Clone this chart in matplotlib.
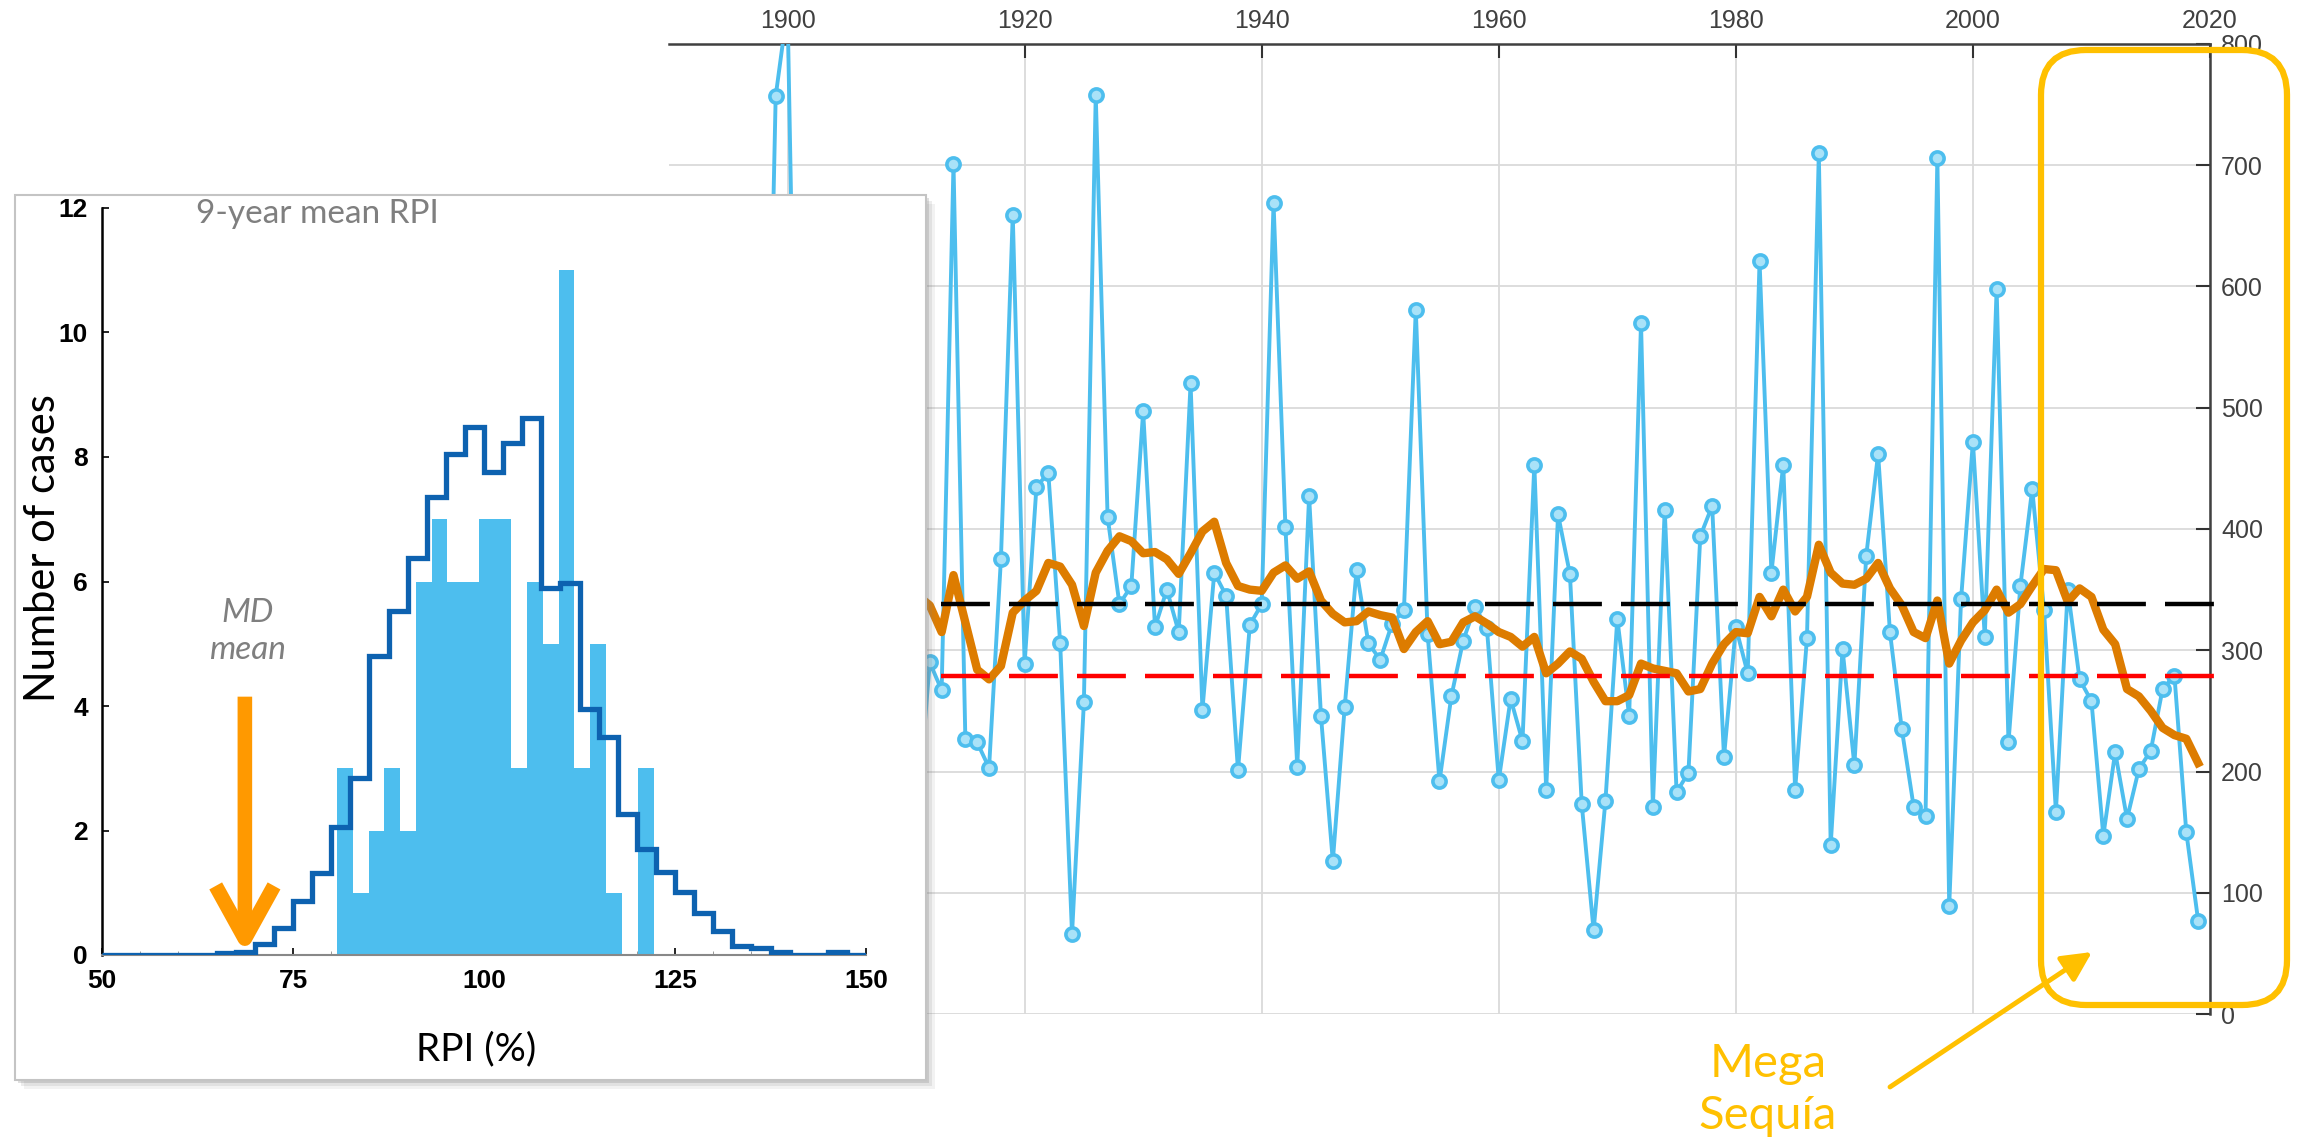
import numpy as np
import matplotlib.pyplot as plt
from matplotlib.patches import Rectangle, FancyBboxPatch

# -----------------------------
# Datos
# -----------------------------
nan = np.nan
years = list(range(1898, 2020))
rain = [300, 757, 830, 300,
        nan, nan, nan, nan, nan, nan, nan, nan, nan,            # 1902-1910 ocultos
        170, 290, 267, 701, 227, 224, 203, 375, 659,            # 1911-1919
        289, 435, 446, 306, 66, 257, 758, 410, 338, 353,        # 1920s
        497, 319, 350, 315, 520, 251, 364, 345, 201, 321,       # 1930s
        338, 669, 402, 204, 427, 246, 126, 253, 366, 306,       # 1940s
        292, 322, 333, 581, 313, 192, 262, 308, 336, 318,       # 1950s
        193, 260, 225, 453, 185, 412, 363, 173, 69, 176,        # 1960s
        326, 246, 570, 171, 416, 183, 199, 394, 419, 212,       # 1970s
        319, 281, 621, 364, 453, 185, 310, 710, 139, 301,       # 1980s
        205, 378, 462, 315, 235, 171, 163, 706, 89, 342,        # 1990s
        472, 311, 598, 224, 353, 433, 333, 167, 350, 276,       # 2000s
        258, 147, 216, 161, 202, 217, 268, 279, 150, 77]        # 2010s

mean_years = list(range(1911, 2020))
mean_rain = [345, 337, 315, 362, 323, 284, 276, 287, 331,
             341, 349, 372, 369, 354, 320, 364, 382, 394, 390,
             380, 381, 375, 363, 380, 398, 406, 372, 353, 350,
             349, 364, 370, 359, 365, 341, 330, 323, 324, 332,
             329, 327, 301, 315, 324, 305, 307, 323, 328, 322,
             315, 311, 303, 311, 281, 289, 299, 293, 274, 258,
             258, 263, 289, 285, 283, 281, 266, 268, 289, 305,
             315, 314, 344, 328, 350, 332, 344, 387, 364, 355,
             354, 359, 372, 351, 337, 315, 310, 341, 289, 308,
             323, 333, 350, 331, 338, 353, 367, 366, 340, 351,
             344, 317, 305, 268, 262, 250, 236, 230, 227, 207]

long_term_mean = 338
reference_level = 279

# Histograma (inserto)
obs_edges = [80.7, 82.8, 84.9, 86.9, 89.0, 91.1, 93.2, 95.2, 97.3, 99.4, 101.5,
             103.5, 105.6, 107.7, 109.8, 111.8, 113.9, 116.0, 118.1, 120.2, 122.2]
obs_counts = [3, 1, 2, 3, 2, 6, 7, 6, 6, 7, 7, 3, 6, 5, 11, 3, 5, 1, 0, 3]

sim_edges = list(np.arange(50, 150.1, 2.5))
sim_counts = [0, 0, 0, 0, 0, 0,
              0.04, 0.05, 0.17, 0.43, 0.87, 1.31, 2.05, 2.84, 4.8, 5.52,
              6.37, 7.35, 8.05, 8.48, 7.76, 8.22, 8.63, 5.9, 5.97, 3.95,
              3.5, 2.27, 1.71, 1.33, 1.02, 0.68, 0.39, 0.14, 0.12, 0.05,
              0, 0, 0.05, 0]
md_mean = 68.7

year_ticks = [1900, 1920, 1940, 1960, 1980, 2000, 2020]
rain_ticks = [0, 100, 200, 300, 400, 500, 600, 700, 800]

# Colores
BLUE = '#4DBEEE'
BLUE_FILL = '#A9E2F8'
ORANGE = '#DD7C00'
YELLOW = '#FFC000'
DARK_BLUE = '#0D62B0'

W, H = 2300, 1147
fig = plt.figure(figsize=(W / 100, H / 100), dpi=100, facecolor='white')

# ============ Serie principal ============
ax = fig.add_axes([669 / W, 1 - 1014 / H, (2210 - 669) / W, (1014 - 44) / H])
ax.set_xlim(1890, 2020)
ax.set_ylim(0, 800)

ax.plot(years, rain, color=BLUE, lw=2.8, marker='o', ms=9.5, mfc=BLUE_FILL,
        mec=BLUE, mew=2.6, zorder=3)
ax.plot(mean_years, mean_rain, color=ORANGE, lw=6, zorder=4,
        solid_joinstyle='round')

ax.plot([1890, 2020.6], [long_term_mean] * 2, color='black', lw=3.2,
        dashes=(11, 4.3), clip_on=False, zorder=5)
ax.plot([1890, 2021.0], [reference_level] * 2, color='#FF0000', lw=3.2,
        dashes=(11, 4.3), clip_on=False, zorder=5)

ax.xaxis.tick_top()
ax.yaxis.tick_right()
ax.set_xticks(year_ticks)
ax.set_yticks(rain_ticks)
ax.grid(True, color='#DADADA', lw=1.3)
ax.set_axisbelow(True)
for s in ['left', 'bottom']:
    ax.spines[s].set_visible(False)
for s in ['top', 'right']:
    ax.spines[s].set_color('#404040')
    ax.spines[s].set_linewidth(1.8)
ax.tick_params(axis='both', direction='in', length=10, width=1.5,
               color='#333333', labelcolor='#404040', labelsize=18)
ax.tick_params(axis='x', pad=8)
ax.tick_params(axis='y', pad=8)
for lab in ax.get_xticklabels() + ax.get_yticklabels():
    lab.set_family('Liberation Sans')

# ============ Recuadro del inserto ============
inch = fig.dpi_scale_trans
bx, by, bw, bh = 0.15, (H - 1080) / 100, 9.11, 8.85
for off, a in [(0.09, 0.10), (0.06, 0.15), (0.03, 0.25)]:
    fig.patches.append(Rectangle((bx + off, by - off), bw, bh, transform=inch,
                                 facecolor='#808080', alpha=a,
                                 edgecolor='none', zorder=5))
fig.patches.append(Rectangle((bx, by), bw, bh, transform=inch,
                             facecolor='white', edgecolor='#C4C4C4',
                             lw=1.5, zorder=6))

# ============ Histograma ============
axh = fig.add_axes([102 / W, 1 - 955 / H, (866 - 102) / W, (955 - 208) / H])
axh.set_zorder(10)
axh.patch.set_alpha(0)
axh.stairs(obs_counts, obs_edges, fill=True, color=BLUE, zorder=2)
axh.stairs(sim_counts, sim_edges, color=DARK_BLUE, lw=3.8, zorder=3)
axh.set_xlim(50, 150)
axh.set_ylim(0, 12)
axh.set_xticks([50, 75, 100, 125, 150])
axh.set_xticks(np.arange(50, 151, 5), minor=True)
axh.set_yticks(range(0, 13, 2))
axh.spines['top'].set_visible(False)
axh.spines['right'].set_visible(False)
axh.spines['left'].set_linewidth(1.8)
axh.spines['bottom'].set_color('#888888')
axh.spines['bottom'].set_linewidth(1.5)
axh.tick_params(axis='both', direction='in', length=5, width=1.2,
                labelsize=19, pad=10)
axh.tick_params(axis='x', which='minor', direction='in', length=3,
                color='#888888')
for lab in axh.get_xticklabels() + axh.get_yticklabels():
    lab.set_fontweight('bold')
    lab.set_family('Liberation Sans')
axh.set_xlabel('RPI (%)', fontsize=28, family='Lato')
axh.xaxis.set_label_coords(0.49, -0.102)
axh.set_ylabel('Number of cases', fontsize=30, family='Lato')
axh.yaxis.set_label_coords(-0.053, 0.545)

axh.annotate('', xy=(md_mean, 0.02), xytext=(md_mean, 4.15),
             arrowprops=dict(arrowstyle='->,head_length=1.9,head_width=1.05',
                             lw=10.5, color='#FF9900', shrinkA=0, shrinkB=0,
                             mutation_scale=20, capstyle='butt'),
             zorder=4)
axh.text(md_mean + 0.3, 5.2, 'MD\nmean', ha='center', va='center',
         fontsize=24, style='italic', color='#7F7F7F', family='Lato',
         linespacing=1.3)

fig.text(196 / W, 1 - 214 / H, '9-year mean RPI', fontsize=24,
         color='#7F7F7F', family='Lato', va='center', ha='left', zorder=12)

# ============ Mega Sequía ============
fig.patches.append(FancyBboxPatch((20.41, (H - 1005) / 100), 2.46, 9.55,
                                  boxstyle='round,pad=0,rounding_size=0.45',
                                  transform=inch, facecolor='none',
                                  edgecolor=YELLOW, lw=4.5, zorder=20))
fig.text(1768 / W, 1 - 1090 / H, 'Mega\nSequía', fontsize=34, color=YELLOW,
         family='Lato', ha='center', va='center', linespacing=1.3)
ax.annotate('', xy=(2092 / W, 1 - 952 / H), xycoords='figure fraction',
            xytext=(1890 / W, 1 - 1087 / H), textcoords='figure fraction',
            arrowprops=dict(arrowstyle='-|>,head_length=0.9,head_width=0.45',
                            lw=3.5, color=YELLOW, shrinkA=0, shrinkB=0,
                            mutation_scale=20),
            annotation_clip=False)

fig.savefig('out.png', dpi=100, facecolor='white')
